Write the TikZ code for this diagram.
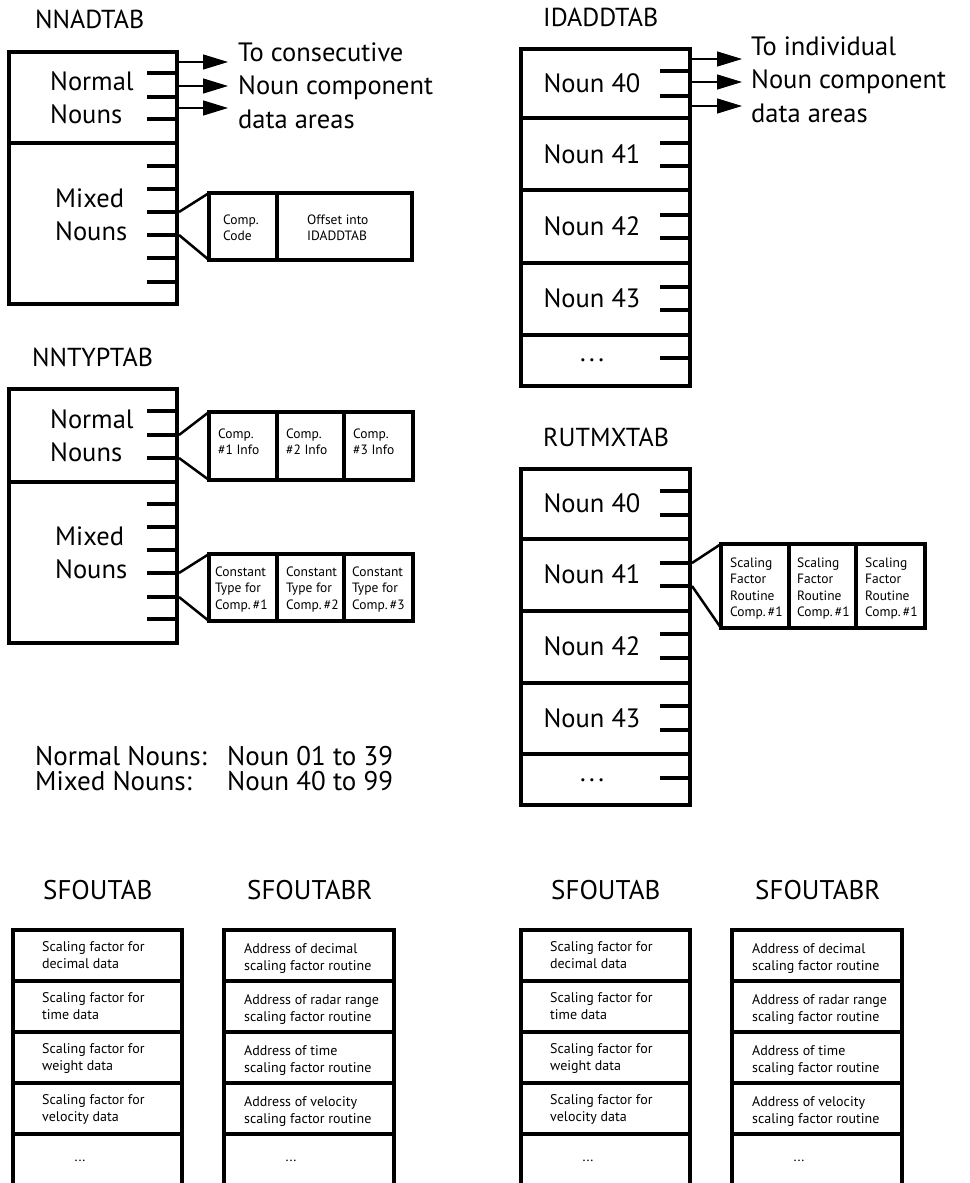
\documentclass[tikz,border=0pt]{standalone}
\usepackage{fontspec}
\setmainfont{PT Sans}
\usetikzlibrary{arrows.meta,fit}

% stacked lines of text, first baseline at the node's base
\newcommand\mlines[1]{\begin{tabular}[t]{@{}l@{}}#1\end{tabular}}

\tikzset{
  frame/.style={draw, line width=4pt, inner sep=0pt, outer sep=0pt},
  tickln/.style={line width=4pt},
  zoomln/.style={line width=2.5pt},
  ptr/.style={line width=1.3pt, -{Triangle[length=25pt,width=15pt]}},
  ttl/.style={font=\fontsize{26}{30}\selectfont, anchor=base west, inner sep=0pt},
  bttl/.style={font=\fontsize{27}{30}\selectfont, anchor=base west, inner sep=0pt},
  lbl/.style={font=\fontsize{26.5}{33.5}\selectfont, anchor=base west, inner sep=0pt},
  noun/.style={font=\fontsize{26.5}{30}\selectfont, anchor=base, inner sep=0pt},
  legend/.style={font=\fontsize{27}{30}\selectfont, anchor=base west, inner sep=0pt},
  sml/.style={font=\fontsize{13.5}{16.6}\selectfont, anchor=base west, inner sep=0pt},
  cellt/.style={font=\fontsize{14}{17}\selectfont, anchor=base west, inner sep=0pt},
}

\begin{document}
\begin{tikzpicture}[x=1pt,y=-1pt]
\useasboundingbox (0,0) rectangle (969,1183);

% ---------------- NNADTAB ----------------
\node[ttl] (nnadT) at (35,28) {NNADTAB};
\node[frame, fit={(9,52)(177,143)}] (nnadN) {};
\node[frame, fit={(9,143)(177,304)}] (nnadM) {};
\node[lbl] (nnadNl) at (50,90) {\mlines{Normal\\Nouns}};
\node[lbl] (nnadMl) at (55,207) {\mlines{Mixed\\Nouns}};
\foreach \y in {73,97,119,166,189,212,235,258,282}
  \draw[tickln] (147,\y) -- (177,\y);
\foreach \i/\y in {1/62,2/86,3/108}{
  \coordinate (nnadA\i) at (179,\y);
  \coordinate (nnadB\i) at (228,\y);
  \draw[ptr] (nnadA\i) -- (nnadB\i);
}
\node[lbl] (nnadTo) at (238,61) {\mlines{To consecutive\\Noun component\\data areas}};
\node[frame, fit={(209,193)(277,260)}] (nnadC1) {};
\node[frame, fit={(277,193)(412,260)}] (nnadC2) {};
\node[sml] (nnadC1t) at (223,224) {\mlines{Comp.\\Code}};
\node[sml] (nnadC2t) at (307,224) {\mlines{Offset into\\IDADDTAB}};
\coordinate (nnadZ1) at (179,212);
\coordinate (nnadZ2) at (179,235);
\draw[zoomln] (nnadZ1) -- (nnadC1.north west);
\draw[zoomln] (nnadZ2) -- (nnadC1.south west);

% ---------------- NNTYPTAB ----------------
\node[ttl] (nntyT) at (32,366) {NNTYPTAB};
\node[frame, fit={(9,389)(177,482)}] (nntyN) {};
\node[frame, fit={(9,482)(177,643)}] (nntyM) {};
\node[lbl] (nntyNl) at (50,428) {\mlines{Normal\\Nouns}};
\node[lbl] (nntyMl) at (55,545) {\mlines{Mixed\\Nouns}};
\foreach \y in {411,435,458,504,527,550,573,597,619}
  \draw[tickln] (147,\y) -- (177,\y);
% component info cells
\node[frame, fit={(209,412)(277,480)}] (nntyU1) {};
\node[frame, fit={(277,412)(344,480)}] (nntyU2) {};
\node[frame, fit={(344,412)(413,480)}] (nntyU3) {};
\node[sml] (nntyU1t) at (218,438) {\mlines{Comp.\\\#1 Info}};
\node[sml] (nntyU2t) at (286,438) {\mlines{Comp.\\\#2 Info}};
\node[sml] (nntyU3t) at (353,438) {\mlines{Comp.\\\#3 Info}};
\coordinate (nntyZ1) at (179,435);
\coordinate (nntyZ2) at (179,458);
\draw[zoomln] (nntyZ1) -- (nntyU1.north west);
\draw[zoomln] (nntyZ2) -- (nntyU1.south west);
% constant type cells
\node[frame, fit={(209,554)(277,621)}] (nntyL1) {};
\node[frame, fit={(277,554)(344,621)}] (nntyL2) {};
\node[frame, fit={(344,554)(413,621)}] (nntyL3) {};
\node[sml] (nntyL1t) at (215,576) {\mlines{Constant\\Type for\\Comp.\,\#1}};
\node[sml] (nntyL2t) at (286,576) {\mlines{Constant\\Type for\\Comp.\,\#2}};
\node[sml] (nntyL3t) at (352,576) {\mlines{Constant\\Type for\\Comp.\,\#3}};
\coordinate (nntyZ3) at (179,573);
\coordinate (nntyZ4) at (179,597);
\draw[zoomln] (nntyZ3) -- (nntyL1.north west);
\draw[zoomln] (nntyZ4) -- (nntyL1.south west);

% ---------------- legend ----------------
\node[legend] (lgN) at (35,765) {Normal Nouns:};
\node[legend] (lgNr) at (227,765) {Noun 01 to 39};
\node[legend] (lgM) at (35,790) {Mixed Nouns:};
\node[legend] (lgMr) at (227,790) {Noun 40 to 99};

% ---------------- IDADDTAB ----------------
\node[ttl] (idT) at (543,26) {IDADDTAB};
\node[frame, fit={(521,49)(690,118)}] (id40) {};
\node[frame, fit={(521,118)(690,190)}] (id41) {};
\node[frame, fit={(521,190)(690,263)}] (id42) {};
\node[frame, fit={(521,263)(690,335)}] (id43) {};
\node[frame, fit={(521,335)(690,386)}] (idMore) {};
\node[noun] (id40t) at (592,92) {Noun 40};
\node[noun] (id41t) at (592,163) {Noun 41};
\node[noun] (id42t) at (592,235) {Noun 42};
\node[noun] (id43t) at (592,307) {Noun 43};
\node[noun] (idMoret) at (592,361) {.\hspace{3.5pt}.\hspace{3.5pt}.};
\foreach \y in {71,96,143,166,215,238,287,310,358}
  \draw[tickln] (660,\y) -- (690,\y);
\foreach \i/\y in {1/59,2/82,3/106}{
  \coordinate (idA\i) at (692,\y);
  \coordinate (idB\i) at (742,\y);
  \draw[ptr] (idA\i) -- (idB\i);
}
\node[lbl] (idTo) at (751,55) {\mlines{To individual\\Noun component\\data areas}};

% ---------------- RUTMXTAB ----------------
\node[ttl] (ruT) at (543,446) {RUTMXTAB};
\node[frame, fit={(521,469)(690,539)}] (ru40) {};
\node[frame, fit={(521,539)(690,611)}] (ru41) {};
\node[frame, fit={(521,611)(690,683)}] (ru42) {};
\node[frame, fit={(521,683)(690,754)}] (ru43) {};
\node[frame, fit={(521,754)(690,805)}] (ruMore) {};
\node[noun] (ru40t) at (592,512) {Noun 40};
\node[noun] (ru41t) at (592,583) {Noun 41};
\node[noun] (ru42t) at (592,655) {Noun 42};
\node[noun] (ru43t) at (592,727) {Noun 43};
\node[noun] (ruMoret) at (592,781) {.\hspace{3.5pt}.\hspace{3.5pt}.};
\foreach \y in {491,515,563,586,634,658,706,730,778}
  \draw[tickln] (660,\y) -- (690,\y);
\node[frame, fit={(721,544)(789,628)}] (ruS1) {};
\node[frame, fit={(789,544)(856,628)}] (ruS2) {};
\node[frame, fit={(856,544)(925,628)}] (ruS3) {};
\node[sml] (ruS1t) at (730,567) {\mlines{Scaling\\Factor\\Routine\\Comp.\,\#1}};
\node[sml] (ruS2t) at (797,567) {\mlines{Scaling\\Factor\\Routine\\Comp.\,\#1}};
\node[sml] (ruS3t) at (865,567) {\mlines{Scaling\\Factor\\Routine\\Comp.\,\#1}};
\coordinate (ruZ1) at (692,563);
\coordinate (ruZ2) at (692,586);
\draw[zoomln] (ruZ1) -- (ruS1.north west);
\draw[zoomln] (ruZ2) -- (ruS1.south west);

% ---------------- SFOUTAB / SFOUTABR pairs ----------------
\foreach \p/\dx in {L/0,R/508}{
  \node[bttl] (sf\p T) at (43+\dx,899) {SFOUTAB};
  \node[bttl] (sfr\p T) at (247+\dx,899) {SFOUTABR};
  \node[frame, fit={(13+\dx,930)(182+\dx,981)}]   (sf\p1) {};
  \node[frame, fit={(13+\dx,981)(182+\dx,1032)}]  (sf\p2) {};
  \node[frame, fit={(13+\dx,1032)(182+\dx,1083)}] (sf\p3) {};
  \node[frame, fit={(13+\dx,1083)(182+\dx,1134)}] (sf\p4) {};
  \node[frame, fit={(13+\dx,1134)(182+\dx,1185)}] (sf\p5) {};
  \node[frame, fit={(224+\dx,930)(394+\dx,981)}]   (sfr\p1) {};
  \node[frame, fit={(224+\dx,981)(394+\dx,1032)}]  (sfr\p2) {};
  \node[frame, fit={(224+\dx,1032)(394+\dx,1083)}] (sfr\p3) {};
  \node[frame, fit={(224+\dx,1083)(394+\dx,1134)}] (sfr\p4) {};
  \node[frame, fit={(224+\dx,1134)(394+\dx,1185)}] (sfr\p5) {};
  \node[cellt] (sf\p1t) at (42+\dx,951)  {\mlines{Scaling factor for\\decimal data}};
  \node[cellt] (sf\p2t) at (42+\dx,1002) {\mlines{Scaling factor for\\time data}};
  \node[cellt] (sf\p3t) at (42+\dx,1053) {\mlines{Scaling factor for\\weight data}};
  \node[cellt] (sf\p4t) at (42+\dx,1104) {\mlines{Scaling factor for\\velocity data}};
  \node[cellt, anchor=base] (sf\p5t) at (80+\dx,1161) {...};
  \node[cellt] (sfr\p1t) at (244+\dx,953)  {\mlines{Address of decimal\\scaling factor routine}};
  \node[cellt] (sfr\p2t) at (244+\dx,1004) {\mlines{Address of radar range\\scaling factor routine}};
  \node[cellt] (sfr\p3t) at (244+\dx,1055) {\mlines{Address of time\\scaling factor routine}};
  \node[cellt] (sfr\p4t) at (244+\dx,1106) {\mlines{Address of velocity\\scaling factor routine}};
  \node[cellt, anchor=base] (sfr\p5t) at (291+\dx,1161) {...};
}
\end{tikzpicture}
\end{document}
